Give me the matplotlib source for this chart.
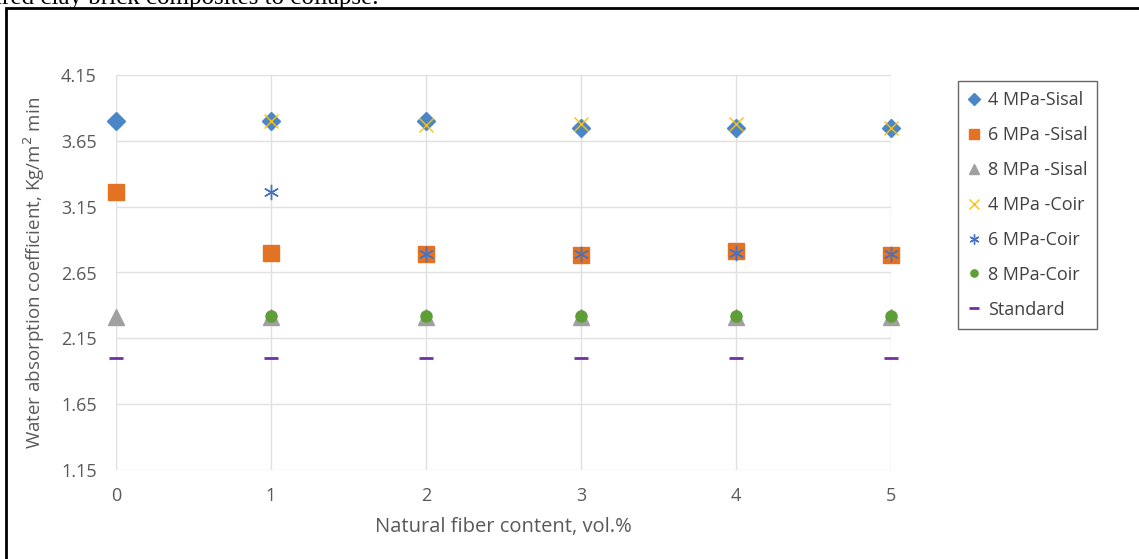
import numpy as np
import matplotlib
matplotlib.use("Agg")
import matplotlib.pyplot as plt
from matplotlib.patches import Rectangle

plt.rcParams['font.family'] = ['Open Sans', 'DejaVu Sans']

# fiber content, vol.%
x_sisal = [0, 1, 2, 3, 4, 5]
x_coir = [1, 2, 3, 4, 5]

sisal_4 = [3.80, 3.80, 3.80, 3.75, 3.75, 3.75]
sisal_6 = [3.26, 2.80, 2.79, 2.78, 2.81, 2.78]
sisal_8 = [2.31, 2.31, 2.31, 2.31, 2.31, 2.31]
coir_4 = [3.80, 3.77, 3.78, 3.78, 3.75]
coir_6 = [3.26, 2.79, 2.79, 2.80, 2.79]
coir_8 = [2.32, 2.32, 2.32, 2.32, 2.32]
standard = [2.0, 2.0, 2.0, 2.0, 2.0, 2.0]

yticks = [1.15, 1.65, 2.15, 2.65, 3.15, 3.65, 4.15]
xticks = [0, 1, 2, 3, 4, 5]

fig = plt.figure(figsize=(11.39, 5.59), dpi=100)
ax = fig.add_axes([116/1139, 1-470/559, 775/1139, 395/559])

kw = dict(ls='none', clip_on=False)
ax.plot(x_sisal, sisal_4, 'D', color='#4A86C8', ms=9, label='4 MPa-Sisal', **kw)
ax.plot(x_sisal, sisal_6, 's', color='#E37222', ms=12, label='6 MPa -Sisal', **kw)
ax.plot(x_sisal, sisal_8, '^', color='#A0A0A0', ms=12, label='8 MPa -Sisal', **kw)
ax.plot(x_coir, coir_4, 'x', color='#FFC000', ms=10, mew=1, label='4 MPa -Coir', **kw)
ax.plot(x_coir, coir_6, marker=(6, 2, 0), color='#4472C4', ms=11, mew=1, label='6 MPa-Coir', **kw)
ax.plot(x_coir, coir_8, 'o', color='#5E9E36', ms=8, label='8 MPa-Coir', **kw)
ax.plot(x_sisal, standard, '_', color='#7030A0', ms=10, mew=2, label='Standard', **kw)

ax.set_xlim(0, 5)
ax.set_ylim(1.15, 4.15)
ax.set_xticks(xticks)
ax.set_yticks(yticks)
ax.set_yticklabels(['%.2f' % v for v in yticks])
ax.grid(True, color='#E0E0E0', lw=1)
ax.set_axisbelow(True)
for s in ax.spines.values():
    s.set_visible(False)
ax.tick_params(length=0, labelsize=13, labelcolor='#595959')
ax.tick_params(axis='y', pad=14)
ax.tick_params(axis='x', pad=12)

ax.set_ylabel('Water absorption coefficient, Kg/m$^2$ min', fontsize=13.5, color='#595959', labelpad=10)
ax.set_xlabel('Natural fiber content, vol.%', fontsize=14.5, color='#595959', labelpad=9)

leg = fig.legend(loc='upper left', bbox_to_anchor=(958/1139, 1-81/559), fontsize=13,
                 frameon=True, fancybox=False, labelspacing=0.94, handlelength=0.7,
                 handletextpad=0.4, borderpad=0.55, borderaxespad=0, markerscale=0.65,
                 labelcolor='#404040')
leg.get_frame().set_edgecolor('#404040')
leg.get_frame().set_linewidth(1)

# outer frame of the figure box
fig.patches.append(Rectangle((6/1139, -0.05), 1.1, 1-8/559+0.05, transform=fig.transFigure,
                             fill=False, ec='black', lw=2))
fig.text(-0.004, 1-4/559, 'ired clay brick composites to collapse.', family='Liberation Serif',
         fontsize=18, va='baseline', ha='left')

fig.savefig('out.png', dpi=100)
